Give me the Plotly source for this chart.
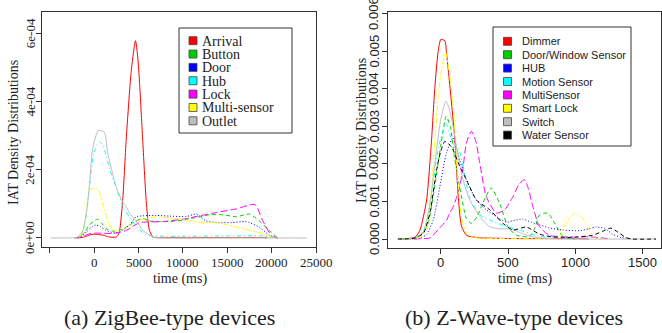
import plotly.graph_objects as go

W, H = 662, 333

# ---------------- ZigBee panel data (y in units of 1e-4) ----------------
zig_names = ["Arrival", "Button", "Door", "Hub", "Lock", "Multi-sensor", "Outlet"]
zig_colors = ["#FF0000", "#00CD00", "#0000FF", "#00FFFF", "#FF00FF", "#FFFF00", "#BEBEBE"]

arrival_x = [-2000, -1500, -1000, -500, 0, 500, 1000, 1500, 2000, 2500, 2800, 3200, 3600, 4150, 4640,
             4900, 5100, 5450, 5850, 6200, 6600, 7000, 8000, 9000, 10000, 12000, 15000, 19000, 19500]
arrival_y = [0, 0.01, 0.04, 0.09, 0.11, 0.1, 0.08, 0.04, 0.02, 0.03, 0.15, 1.1, 2.9, 4.85, 5.78,
             5.3, 4.55, 2.9, 1.1, 0.24, 0.03, 0.01, 0.005, 0.01, 0.005, 0.01, 0.01, 0.01, 0]

button_x = [-2200, -1700, -1000, -570, 0, 340, 800, 1300, 2050, 2800, 3400, 4000, 4700, 5500, 6200,
            7500, 8400, 10000, 10750, 12000, 13000, 14500, 16000, 17500, 18700, 19800, 20700]
button_y = [0, 0.03, 0.2, 0.38, 0.5, 0.55, 0.45, 0.28, 0.2, 0.22, 0.28, 0.38, 0.5, 0.57, 0.5,
            0.48, 0.48, 0.52, 0.57, 0.62, 0.68, 0.68, 0.62, 0.7, 0.48, 0.2, 0]

door_x = [-2200, -1500, -800, -300, 180, 700, 1300, 2260, 3000, 3960, 4700, 5500, 7000, 8500, 10400,
          11500, 12600, 14000, 15500, 17000, 17500, 18700, 19800, 20700]
door_y = [0, 0.03, 0.2, 0.32, 0.38, 0.33, 0.22, 0.15, 0.2, 0.38, 0.62, 0.65, 0.66, 0.64, 0.63,
          0.7, 0.5, 0.45, 0.45, 0.48, 0.45, 0.3, 0.07, 0]

hub_x = [-2200, -1500, -1000, -500, -100, 570, 1000, 1320, 2000, 2500, 3200, 4150, 5090, 5850, 6500,
         7500, 10000, 15000, 19000, 19500, 20200]
hub_y = [0, 0.05, 0.5, 1.6, 2.45, 2.82, 2.7, 2.4, 1.8, 1.45, 0.95, 0.53, 0.24, 0.09, 0.06,
         0.05, 0.05, 0.06, 0.06, 0.04, 0]

lock_x = [-2200, -1500, -570, 0, 900, 2000, 2830, 3600, 4300, 5090, 6200, 7700, 10000, 11900, 13800,
          16000, 18100, 19000, 20000, 20700]
lock_y = [0, 0.03, 0.12, 0.14, 0.14, 0.13, 0.16, 0.22, 0.33, 0.45, 0.47, 0.48, 0.55, 0.65, 0.75,
          0.85, 0.98, 0.5, 0.06, 0]

multi_x = [-2200, -1700, -1300, -940, -570, -100, 450, 940, 1500, 2070, 2830, 3500, 3960, 5090, 6200,
           7000, 8500, 10000, 11100, 12500, 13800, 15000, 16400, 17500, 18700, 19800, 20500]
multi_y = [0, 0.02, 0.2, 0.63, 1.41, 1.45, 1.43, 0.97, 0.53, 0.24, 0.2, 0.28, 0.35, 0.53, 0.58,
           0.62, 0.58, 0.55, 0.48, 0.45, 0.45, 0.38, 0.3, 0.22, 0.15, 0.05, 0]

outlet_x = [-4900, -3000, -2500, -1900, -1330, -750, -570, -190, 450, 1130, 1500, 1900, 2450, 3200,
            3580, 3960, 4700, 5470, 5850, 6600, 7000, 8000, 15000, 24000]
outlet_y = [0, 0, 0.005, 0.03, 0.19, 1.02, 1.5, 2.6, 3.15, 3.1, 2.5, 2.05, 1.5, 1.05,
            0.92, 0.73, 0.5, 0.22, 0.15, 0.03, 0.01, 0, 0, 0]

zig_x = [arrival_x, button_x, door_x, hub_x, lock_x, multi_x, outlet_x]
zig_y = [arrival_y, button_y, door_y, hub_y, lock_y, multi_y, outlet_y]
zig_scale = 1e-4

zig_xticks = [-5000, 0, 5000, 10000, 15000, 20000, 25000]
zig_xticktext = ["", "0", "5000", "10000", "15000", "20000", "25000"]
zig_yticks = [0, 2e-4, 4e-4, 6e-4]
zig_yticktext = ["0e+00", "2e-04", "4e-04", "6e-04"]

# ---------------- Z-Wave panel data (y in units of 1e-3) ----------------
zw_names = ["Dimmer", "Door/Window Sensor", "HUB", "Motion Sensor", "MultiSensor",
            "Smart Lock", "Switch", "Water Sensor"]
zw_colors = ["#FF0000", "#00CD00", "#0000FF", "#00FFFF", "#FF00FF", "#FFFF00", "#BEBEBE", "#000000"]

dimmer_x = [-300, -250, -190, -155, -106, -69, -44, -20, 0, 30, 42, 79, 104, 128, 153, 190, 250, 300,
            400, 600, 800, 1000, 1100]
dimmer_y = [0, 0.01, 0.05, 0.24, 1.04, 2.65, 4.07, 5.0, 5.32, 5.28, 4.97, 3.63, 2.65, 1.2, 0.35, 0.1,
            0.05, 0.03, 0.02, 0.01, 0.01, 0.01, 0]

dw_x = [-300, -200, -150, -100, -50, 0, 40, 70, 100, 150, 190, 227, 270, 311, 375, 437, 499, 561,
        659, 700, 733, 795, 850, 900, 950, 1000]
dw_y = [0, 0.02, 0.1, 0.35, 1.3, 2.5, 3.27, 3.0, 2.2, 1.2, 0.55, 0.42, 0.6, 0.95, 1.36, 0.95, 0.33,
        0.1, 0.07, 0.3, 0.64, 0.69, 0.4, 0.1, 0.02, 0]

hubz_x = [-300, -150, -106, -57, -7, 42, 91, 141, 190, 264, 338, 413, 487, 550, 608, 670, 733, 800,
          904, 1030, 1100, 1153, 1220, 1276, 1340, 1400]
hubz_y = [0, 0.02, 0.13, 0.5, 1.4, 2.3, 2.7, 2.1, 1.58, 1.04, 0.78, 0.6, 0.45, 0.5, 0.53, 0.45, 0.38,
          0.3, 0.24, 0.22, 0.27, 0.32, 0.28, 0.13, 0.04, 0]

motion_x = [-300, -200, -130, -80, -30, 0, 40, 70, 100, 128, 178, 215, 289, 400, 500, 600, 700, 800,
            900, 1000, 1100]
motion_y = [0, 0.02, 0.2, 0.9, 2.2, 2.7, 3.08, 2.75, 2.5, 2.45, 1.68, 1.1, 0.65, 0.45, 0.32, 0.22,
            0.1, 0.04, 0.02, 0.01, 0]

msensor_x = [-200, -150, -81, -7, 42, 67, 91, 116, 141, 165, 190, 227, 260, 289, 338, 413, 474, 536,
             580, 622, 650, 684, 733, 807, 900, 1000, 1100, 1200, 1250]
msensor_y = [0, 0.01, 0.03, 0.3, 0.5, 0.7, 0.85, 1.1, 1.4, 1.9, 2.56, 2.87, 2.6, 2.03, 1.13, 0.69,
             0.78, 1.13, 1.45, 1.58, 1.35, 0.87, 0.33, 0.1, 0.06, 0.05, 0.06, 0.03, 0]

slock_x = [-300, -200, -150, -100, -70, -44, -20, 10, 35, 67, 100, 125, 153, 190, 250, 300, 500, 700,
           850, 881, 931, 993, 1054, 1104, 1150, 1200]
slock_y = [0, 0.01, 0.05, 0.4, 1.3, 2.65, 3.8, 4.6, 4.97, 4.34, 3.2, 1.6, 0.59, 0.15, 0.04, 0.02,
           0.01, 0.01, 0.02, 0.05, 0.42, 0.69, 0.56, 0.24, 0.03, 0]

switch_x = [-320, -200, -130, -81, -32, 0, 37, 60, 91, 128, 165, 215, 289, 363, 430, 500, 560, 600,
            700, 800, 900, 1600]
switch_y = [0, 0.02, 0.2, 0.96, 2.38, 3.2, 3.67, 3.5, 3.0, 2.2, 1.58, 1.04, 0.6, 0.33, 0.27, 0.27,
            0.22, 0.15, 0.05, 0.01, 0, 0]

water_x = [-320, -200, -130, -81, -32, 0, 30, 80, 141, 190, 264, 363, 461, 536, 635, 733, 820, 906,
           1000, 1128, 1200, 1264, 1330, 1375, 1420, 1600]
water_y = [0, 0.02, 0.15, 0.7, 1.84, 2.35, 2.6, 2.45, 1.93, 1.58, 1.04, 0.78, 0.42, 0.24, 0.32, 0.13,
           0.06, 0.04, 0.05, 0.1, 0.2, 0.29, 0.15, 0.04, 0, 0]

zw_x = [dimmer_x, dw_x, hubz_x, motion_x, msensor_x, slock_x, switch_x, water_x]
zw_y = [dimmer_y, dw_y, hubz_y, motion_y, msensor_y, slock_y, switch_y, water_y]
zw_scale = 1e-3

zw_xticks = [0, 500, 1000, 1500]
zw_xticktext = ["0", "500", "1000", "1500"]
zw_yticks = [0, 0.001, 0.002, 0.003, 0.004, 0.005, 0.006]
zw_yticktext = ["0.000", "0.001", "0.002", "0.003", "0.004", "0.005", "0.006"]

# R-like line types cycling: solid, dashed, dotted, dotdash, longdash, twodash
LTY = ["solid", "4px,3px", "1px,2px", "1px,3px,4px,3px", "7px,3px", "2px,2px,6px,2px"]

SERIF = "Liberation Serif"
SANS = "Liberation Sans"
INK = "#222222"

fig = go.Figure()

for i, name in enumerate(zig_names):
    fig.add_trace(go.Scatter(
        x=zig_x[i], y=[v * zig_scale for v in zig_y[i]], mode="lines", name=name,
        line=dict(color=zig_colors[i], width=1, dash=LTY[i % 6], shape="spline", smoothing=0.6),
        xaxis="x", yaxis="y", showlegend=False))

for i, name in enumerate(zw_names):
    fig.add_trace(go.Scatter(
        x=zw_x[i], y=[v * zw_scale for v in zw_y[i]], mode="lines", name=name,
        line=dict(color=zw_colors[i], width=1, dash=LTY[i % 6], shape="spline", smoothing=0.6),
        xaxis="x2", yaxis="y2", showlegend=False))


def px(x):
    return x / W


def py(y):
    return 1 - y / H


axis_common = dict(showgrid=False, zeroline=False, showline=True, mirror=True, linecolor="#333333",
                   linewidth=1, ticks="outside", ticklen=5, tickcolor="#333333", tickwidth=1,
                   showticklabels=False)

fig.update_layout(
    width=W, height=H, margin=dict(l=0, r=0, t=0, b=0),
    paper_bgcolor="white", plot_bgcolor="white", showlegend=False,
    xaxis=dict(domain=[px(42), px(316)], range=[-5900, 25000], tickvals=zig_xticks,
               anchor="y", **axis_common),
    yaxis=dict(domain=[py(247), py(12)], range=[-0.265e-4, 6.62e-4], tickvals=zig_yticks,
               anchor="x", **axis_common),
    xaxis2=dict(domain=[px(388), px(661)], range=[-393, 1637], tickvals=zw_xticks,
                anchor="y2", **axis_common),
    yaxis2=dict(domain=[py(248), py(12)], range=[-0.00024, 0.00605], tickvals=zw_yticks,
                anchor="x2", **axis_common),
)

shapes = []
annotations = []


def text(x, y, s, family, size, angle=0, xanchor="center", xref="paper", yref="paper", h=None):
    a = dict(x=x if xref != "paper" else px(x), y=y if yref != "paper" else py(y),
             xref=xref, yref=yref, text=s, showarrow=False,
             xanchor=xanchor, yanchor="middle", textangle=angle,
             font=dict(family=family, size=size, color=INK))
    if h is not None:
        a["height"] = h
        a["borderpad"] = 0
    annotations.append(a)


# tick labels (placed via the axes' own data scales)
for v, t in zip(zig_xticks, zig_xticktext):
    if t:
        text(v, 262, t, SERIF, 13, xref="x")
for v, t in zip(zig_yticks, zig_yticktext):
    text(30, v, t, SERIF, 13, angle=-90, yref="y")
for v, t in zip(zw_xticks, zw_xticktext):
    text(v, 262, t, SANS, 13, xref="x2")
for v, t in zip(zw_yticks, zw_yticktext):
    text(374, v, t, SANS, 13, angle=-90, yref="y2")

# axis titles
text(180, 279, "time (ms)", SERIF, 14)
text(525, 279, "time (ms)", SERIF, 14)
text(13, 133, "IAT Density Distributions", SERIF, 14, angle=-90)
text(361, 130, "IAT Density Distributions", SERIF, 14, angle=-90)

# captions
text(169, 317, "(a) ZigBee-type devices", SERIF, 22)
text(514, 317, "(b) Z-Wave-type devices", SERIF, 22)


def legend(box, names, colors, sq_x, txt_x, y0, step, family, size):
    x0, y0b, x1, y1b = box
    shapes.append(dict(type="rect", xref="paper", yref="paper", x0=px(x0), x1=px(x1),
                       y0=py(y1b), y1=py(y0b), line=dict(color="#333333", width=1),
                       fillcolor="white"))
    for i, (n, c) in enumerate(zip(names, colors)):
        cy = y0 + i * step
        shapes.append(dict(type="rect", xref="paper", yref="paper", x0=px(sq_x), x1=px(sq_x + 8),
                           y0=py(cy + 4), y1=py(cy - 4), line=dict(color="#444444", width=0.8),
                           fillcolor=c))
        text(txt_x, cy, n, family, size, xanchor="left", h=12)


legend((179, 28, 292, 133), zig_names, zig_colors, 189, 201, 40.7, 13.35, SERIF, 14)
legend((493, 27, 631, 146), zw_names, zw_colors, 503.5, 520.5, 41.3, 13.4, SANS, 11)

fig.update_layout(shapes=shapes, annotations=annotations)

fig.write_html("out.html", config={"displayModeBar": False},
               post_script="document.body.style.margin='0';document.body.style.overflow='hidden';")
